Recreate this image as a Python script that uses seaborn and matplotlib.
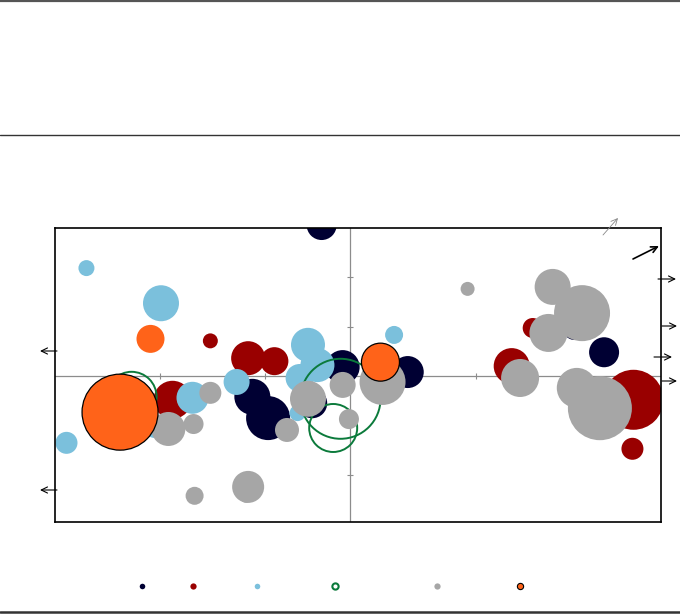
import matplotlib
matplotlib.use("Agg")
import matplotlib.pyplot as plt
from matplotlib.lines import Line2D
from matplotlib.patches import Rectangle
import numpy as np
import pandas as pd
import seaborn as sns

sns.set_style("white")

# ---- data (x, y, bubble area) per series ----
navy_x = [-0.27, -0.93, -0.78, -0.36, -0.07, 0.55, 2.14, 2.42]
navy_y = [3.05, -0.42, -0.85, -0.55, 0.18, 0.08, 0.97, 0.48]
navy_v = [225, 324, 484, 225, 289, 256, 144, 225]

red_x = [-1.33, -0.97, -0.72, -1.69, 1.74, 1.54, 2.70, 2.69]
red_y = [0.71, 0.36, 0.30, -0.48, 0.97, 0.20, -0.48, -1.47]
red_v = [56, 289, 196, 361, 100, 324, 900, 121]

blue_x = [-2.51, -1.80, -0.40, -0.31, -0.48, -1.08, -1.50, -2.70, -0.50, 0.42, -1.86]
blue_y = [2.18, 1.47, 0.63, 0.22, -0.04, -0.12, -0.44, -1.35, -0.75, 0.83, -1.05]
blue_v = [64, 324, 289, 289, 196, 169, 256, 121, 64, 81, 100]

green_x = [-2.08, -0.09, -0.16]
green_y = [-0.42, -0.46, -1.05]
green_v = [625, 1600, 576]

gray_x = [-1.33, -1.73, -1.49, -1.48, -0.97, -0.99, -0.60, -0.40, -0.07, -0.01,
          0.31, 1.12, 1.93, 2.21, 1.89, 1.62, 2.16, 2.38]
gray_y = [-0.34, -1.07, -0.97, -2.42, -2.24, -2.44, -1.09, -0.46, -0.18, -0.87,
          -0.12, 1.76, 1.80, 1.27, 0.87, -0.04, -0.24, -0.65]
gray_v = [121, 289, 100, 81, 256, 36, 144, 324, 169, 100,
          529, 49, 324, 784, 361, 361, 400, 1024]

orange_x = [-1.90, -2.19, 0.29]
orange_y = [0.75, -0.73, 0.28]
orange_v = [196, 1444, 361]
orange_edge = ["none", "black", "black"]

series = [
    ("navy", navy_x, navy_y, navy_v, "#000033"),
    ("red", red_x, red_y, red_v, "#990000"),
    ("blue", blue_x, blue_y, blue_v, "#7bc0dc"),
    ("green", green_x, green_y, green_v, "#0b7a3b"),
    ("gray", gray_x, gray_y, gray_v, "#a6a6a6"),
    ("orange", orange_x, orange_y, orange_v, "#ff6319"),
]

x_ticks = [-1.81, -0.81, 0.19, 1.2, 2.2]
y_ticks = [-2, -1, 1, 2]

W, H, DPI = 680, 614, 100
fig = plt.figure(figsize=(W / DPI, H / DPI), dpi=DPI)
fig.patch.set_facecolor("white")
ax = fig.add_axes([55 / W, 1 - 522 / H, 606 / W, 294 / H])
ax.set_xlim(-2.8095, 2.962)
ax.set_ylim(-2.949, 2.990)

VMAX = 1600.0
SMAX = VMAX * (1.44 ** 2)  # area px^2 -> points^2 at 100 dpi

for name, xs, ys, vs, col in series:
    df = pd.DataFrame({"x": xs, "y": ys, "v": vs})
    if name == "green":
        sns.scatterplot(data=df, x="x", y="y", size="v", sizes=(0, SMAX),
                        size_norm=(0, VMAX), color=col, edgecolor=col,
                        linewidth=1.4, legend=False, ax=ax, zorder=3)
        ax.collections[-1].set_facecolor("none")
    elif name == "orange":
        sns.scatterplot(data=df, x="x", y="y", size="v", sizes=(0, SMAX),
                        size_norm=(0, VMAX), color=col, edgecolor=orange_edge,
                        linewidth=0.9, legend=False, ax=ax, zorder=3)
    else:
        sns.scatterplot(data=df, x="x", y="y", size="v", sizes=(0, SMAX),
                        size_norm=(0, VMAX), color=col, edgecolor="none",
                        linewidth=0, legend=False, ax=ax, zorder=3)

ax.set_xlim(-2.8095, 2.962)
ax.set_ylim(-2.949, 2.990)
ax.set_xticks([])
ax.set_yticks([])
ax.set_xlabel("")
ax.set_ylabel("")
for sp in ax.spines.values():
    sp.set_visible(True)
    sp.set_color("black")
    sp.set_linewidth(1.2)
    sp.set_zorder(5)

for coll in ax.collections:
    coll.set_clip_on(True)
    coll.set_clip_box(ax.bbox)

# white masks just outside the plot frame so bubbles stay inside it
for (mx, my, mw, mh) in [(0, 1, 1, 0.12), (1, -0.05, 0.05, 1.17),
                         (-0.05, -0.05, 0.05, 1.17), (0, -0.05, 1, 0.05)]:
    ax.add_patch(Rectangle((mx, my), mw, mh, transform=ax.transAxes,
                           facecolor="white", edgecolor="none", zorder=4,
                           clip_on=False))

ax.axhline(0, color="#8c8c8c", lw=0.9, zorder=1)
ax.axvline(0, color="#8c8c8c", lw=0.9, zorder=1)
ax.plot(x_ticks, [0] * len(x_ticks), linestyle="none", marker="|",
        color="#8c8c8c", ms=4, mew=0.8, zorder=1)
ax.plot([0] * len(y_ticks), y_ticks, linestyle="none", marker="_",
        color="#8c8c8c", ms=4, mew=0.8, zorder=1)

# ---- horizontal rules of the figure ----
for py, col, lw in [(1, "#555555", 1.6), (135, "#333333", 1.0), (612, "#333333", 1.8)]:
    fig.add_artist(Line2D([0, 1], [1 - py / H, 1 - py / H], transform=fig.transFigure,
                          color=col, lw=lw))

# ---- annotation arrows (no text) ----
def arrow(x0, y0, x1, y1, color="black", lw=0.8):
    ax.annotate("", xy=(x1, H - y1), xytext=(x0, H - y0),
                xycoords="figure pixels", textcoords="figure pixels",
                annotation_clip=False, zorder=7,
                arrowprops=dict(arrowstyle="->,head_length=0.45,head_width=0.22",
                                color=color, lw=lw, shrinkA=0, shrinkB=0))

arrow(57, 351, 40, 351)
arrow(57, 490, 40, 490)
arrow(658, 279, 676, 279)
arrow(662, 326, 677, 326)
arrow(654, 357, 672, 357)
arrow(662, 381, 677, 381)
arrow(603, 235, 618, 218, color="#888888", lw=0.6)
arrow(633, 259, 659, 246, color="black", lw=1.2)

# ---- legend (markers only) ----
leg_x = [142, 193, 257, 335, 437, 520]
handles = [
    Line2D([], [], linestyle="none", marker="o", ms=4, color="#000033", mec="none"),
    Line2D([], [], linestyle="none", marker="o", ms=4.5, color="#990000", mec="none"),
    Line2D([], [], linestyle="none", marker="o", ms=4, color="#7bc0dc", mec="none"),
    Line2D([], [], linestyle="none", marker="o", ms=4.5, mfc="white", mec="#0b7a3b", mew=1.5),
    Line2D([], [], linestyle="none", marker="o", ms=4.5, color="#a6a6a6", mec="none"),
    Line2D([], [], linestyle="none", marker="o", ms=4.5, mfc="#ff6319", mec="black", mew=0.8),
]
for hx, h in zip(leg_x, handles):
    fig.legend([h], [""], loc="center", bbox_to_anchor=(hx / W, 1 - 587 / H),
               frameon=False, handlelength=0.6, handletextpad=0, borderpad=0,
               borderaxespad=0)

fig.savefig("out.png", dpi=DPI, facecolor="white")
